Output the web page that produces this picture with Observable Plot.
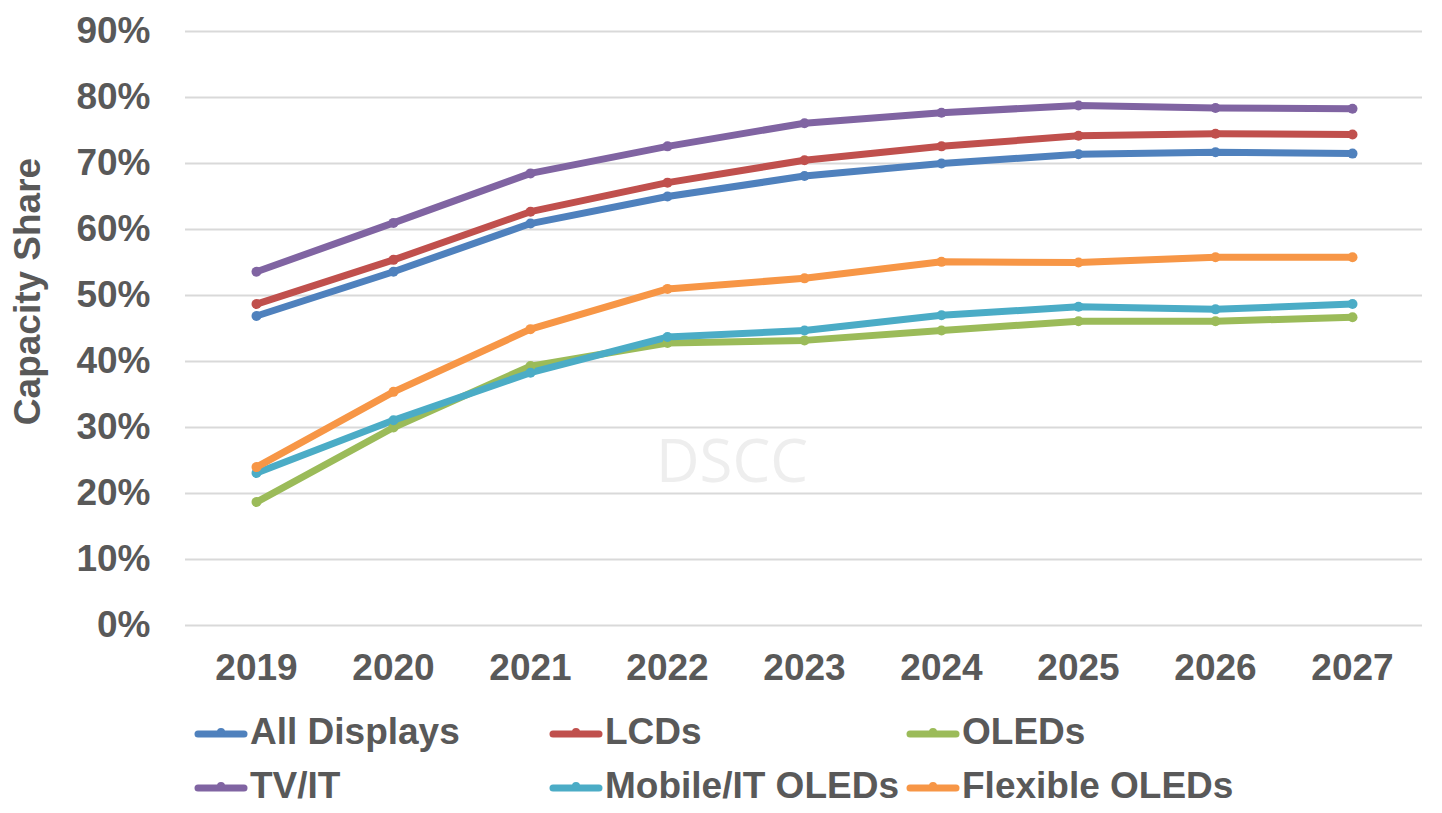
<!DOCTYPE html>
<html>
<head>
<meta charset="utf-8">
<script src="https://cdn.jsdelivr.net/npm/d3@7"></script>
<script src="https://cdn.jsdelivr.net/npm/@observablehq/plot@0.6"></script>
<style>
  body { margin: 0; background: #fff; font-family: "Liberation Sans", Arial, sans-serif; }
  #legend { display: grid; grid-template-columns: 355px 357px 357px; grid-auto-rows: 54px; margin-left: 194px; margin-top: 5px; }
  .item { display: flex; align-items: center; font-size: 37px; font-weight: bold; color: #595959; white-space: nowrap; }
  .item svg { margin-right: 2px; flex: none; }
</style>
</head>
<body>
<div id="chart"></div>
<div id="legend"></div>
<script>
const years = ["2019","2020","2021","2022","2023","2024","2025","2026","2027"];
const seriesNames = ["All Displays","LCDs","OLEDs","TV/IT","Mobile/IT OLEDs","Flexible OLEDs"];
const allDisplays = [46.9, 53.6, 60.9, 65.0, 68.1, 70.0, 71.4, 71.7, 71.5];
const lcds        = [48.7, 55.4, 62.7, 67.1, 70.5, 72.6, 74.2, 74.5, 74.4];
const oleds       = [18.7, 30.0, 39.3, 42.8, 43.2, 44.7, 46.1, 46.1, 46.7];
const tvit        = [53.6, 61.0, 68.5, 72.6, 76.1, 77.7, 78.8, 78.4, 78.3];
const mobileIT    = [23.1, 31.1, 38.3, 43.7, 44.7, 47.0, 48.3, 47.9, 48.7];
const flexible    = [24.0, 35.4, 44.9, 51.0, 52.6, 55.1, 55.0, 55.8, 55.8];
const yTicks = [0, 10, 20, 30, 40, 50, 60, 70, 80, 90];
const colors = ["#4F81BD","#C0504D","#9BBB59","#8064A2","#4BACC6","#F79646"];

const seriesValues = [allDisplays, lcds, oleds, tvit, mobileIT, flexible];
const rows = [];
seriesNames.forEach((s, i) => years.forEach((y, j) => rows.push({series: s, year: y, value: seriesValues[i][j]})));

const textStyle = {fontSize: 37, fontWeight: "bold", fill: "#595959"};

const chart = Plot.plot({
  width: 1442,
  height: 700,
  marginLeft: 185,
  marginRight: 20,
  marginTop: 31,
  marginBottom: 75,
  style: {fontFamily: "'Liberation Sans', Arial, sans-serif", background: "#fff", overflow: "visible"},
  x: {type: "point", domain: years, padding: 0.5, label: null},
  y: {domain: [0, 90], label: null},
  color: {domain: seriesNames, range: colors},
  marks: [
    Plot.gridY(yTicks, {stroke: "#d9d9d9", strokeOpacity: 1, strokeWidth: 2}),
    Plot.axisY(yTicks, {tickSize: 0, tickPadding: 35, tickFormat: d => d + "%", label: null, ...textStyle}),
    Plot.axisX({tickSize: 0, tickPadding: 28, label: null, ...textStyle}),
    Plot.text(["DSCC"], {frameAnchor: "middle", dx: -72, dy: 134, fontSize: 60, fill: "#eeeeee", fontFamily: "'Open Sans', sans-serif", fontWeight: "normal"}),
    Plot.text(["Capacity Share"], {frameAnchor: "left", textAnchor: "middle", lineAnchor: "middle", rotate: -90, dx: -157, dy: -37, ...textStyle}),
    Plot.line(rows, {x: "year", y: "value", z: "series", stroke: "series", strokeWidth: 7, strokeLinejoin: "round", strokeLinecap: "round"}),
    Plot.dot(rows, {x: "year", y: "value", fill: "series", r: 5})
  ]
});
document.getElementById("chart").appendChild(chart);

const legend = document.getElementById("legend");
seriesNames.forEach((s, i) => {
  const div = document.createElement("div");
  div.className = "item";
  div.innerHTML = `<svg width="54" height="20"><line x1="4" y1="12" x2="50" y2="12" stroke="${colors[i]}" stroke-width="7" stroke-linecap="round"/><circle cx="27" cy="10" r="4" fill="${colors[i]}"/></svg><span>${s}</span>`;
  legend.appendChild(div);
});
</script>
</body>
</html>
